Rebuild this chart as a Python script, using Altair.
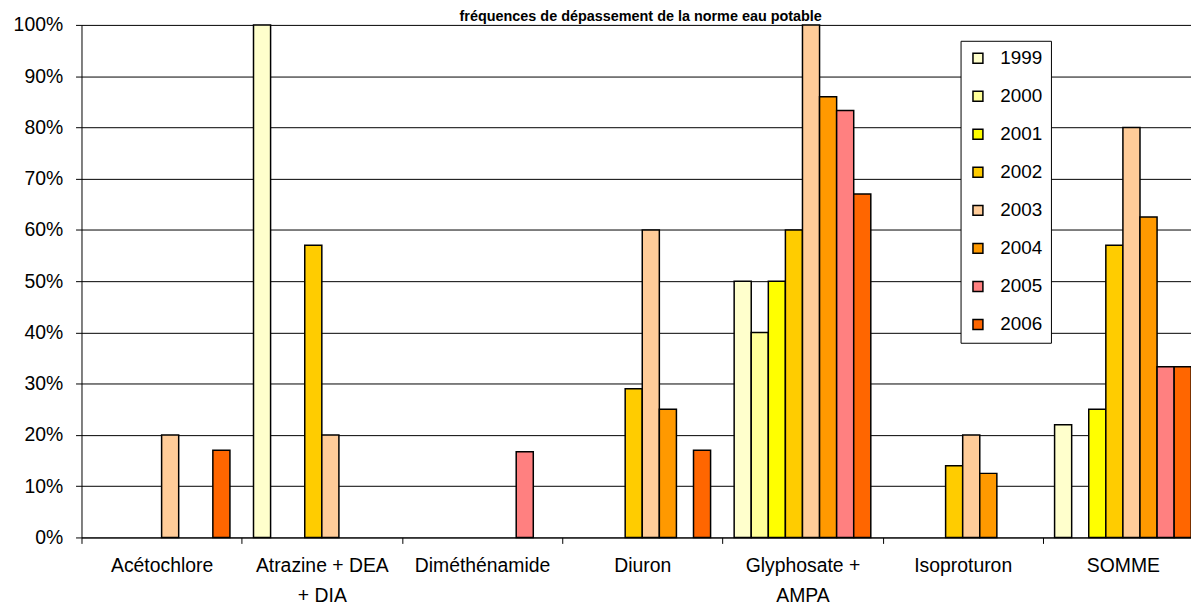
import altair as alt
import pandas as pd

title_text = "fréquences de dépassement de la norme eau potable"

categories = ["Acétochlore", "Atrazine + DEA\n+ DIA", "Diméthénamide", "Diuron",
              "Glyphosate +\nAMPA", "Isoproturon", "SOMME"]
years = ["1999", "2000", "2001", "2002", "2003", "2004", "2005", "2006"]
colors = ["#FFFFCC", "#FFFF99", "#FFFF00", "#FFCC00", "#FFCC99", "#FF9900", "#FF8080", "#FF6600"]

# values (%) per year, one entry per category (None = no bar)
v1999 = [None, 100, None, None, 50, None, 22]
v2000 = [None, None, None, None, 40, None, None]
v2001 = [None, None, None, None, 50, None, 25]
v2002 = [None, 57, None, 29, 60, 14, 57]
v2003 = [20, 20, None, 60, 100, 20, 80]
v2004 = [None, None, None, 25, 86, 12.5, 62.5]
v2005 = [None, None, 16.7, None, 83.3, None, 33.3]
v2006 = [17, None, None, 17, 67, None, 33.3]

series = [v1999, v2000, v2001, v2002, v2003, v2004, v2005, v2006]
rows = []
for yr, vals in zip(years, series):
    for cat, v in zip(categories, vals):
        if v is not None:
            rows.append({"cat": cat, "year": yr, "val": v})
df = pd.DataFrame(rows)

FONT = "Liberation Sans"
STEP = 161.3

bars = alt.Chart(df).mark_bar(stroke="black", strokeWidth=1.5).encode(
    x=alt.X("cat:N", sort=categories,
            scale=alt.Scale(domain=categories, range=[0, STEP * 7], paddingInner=0, paddingOuter=0),
            axis=alt.Axis(title=None, labelAngle=0, tickBand="extent", grid=False,
                          labelExpr="split(datum.label, '\\n')", labelLineHeight=30,
                          labelFontSize=19.5, tickSize=6, labelPadding=13,
                          domainColor="black", tickColor="black", labelColor="black",
                          labelFont=FONT)),
    xOffset=alt.XOffset("year:N", sort=years,
                        scale=alt.Scale(domain=years, paddingOuter=0.69, paddingInner=0)),
    y=alt.Y("val:Q", scale=alt.Scale(domain=[0, 100], nice=False),
            axis=alt.Axis(title=None, values=list(range(0, 101, 10)),
                          labelExpr="datum.value + '%'", labelFontSize=19.5,
                          tickSize=6, labelPadding=13, gridColor="black",
                          domainColor="black", tickColor="black", labelColor="black",
                          labelFont=FONT)),
    color=alt.Color("year:N", scale=alt.Scale(domain=years, range=colors),
                    legend=alt.Legend(title=None, orient="none", legendX=885, legendY=16,
                                      direction="vertical", symbolType="square",
                                      symbolSize=100, symbolStrokeColor="black",
                                      symbolStrokeWidth=1.5, labelFontSize=19,
                                      labelFont=FONT, labelColor="black",
                                      labelOffset=13, rowPadding=18.3, padding=8,
                                      strokeColor="black", fillColor="white")),
)

title = alt.Chart(pd.DataFrame({"t": [title_text]})).mark_text(
    font=FONT, fontWeight="bold", fontSize=14.5, align="center", baseline="alphabetic",
    color="black"
).encode(x=alt.value(563), y=alt.value(-4), text="t:N")

chart = alt.layer(bars, title).properties(
    width=1117, height=516,
    autosize=alt.AutoSizeParams(type="none"),
    padding={"left": 74, "top": 15, "right": 0, "bottom": 67},
).configure_view(stroke=None)

chart.save("out.html", embed_options={"renderer": "svg", "actions": False})
